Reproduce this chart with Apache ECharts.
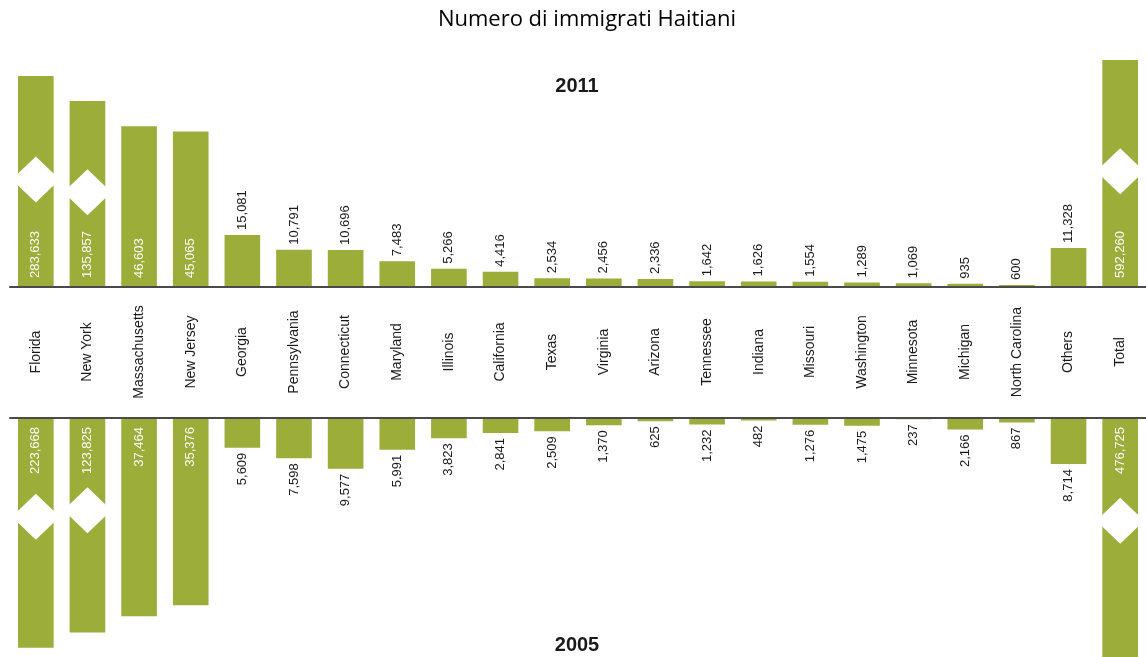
<!DOCTYPE html>
<html>
<head>
<meta charset="utf-8">
<script src="https://cdn.jsdelivr.net/npm/echarts@6/dist/echarts.min.js"></script>
<style>
  html, body { margin: 0; padding: 0; background: #fff; }
  #chart { width: 1146px; height: 657px; }
</style>
</head>
<body>
<div id="chart"></div>
<script>
// Haitian immigrants by US state, 2011 (upper panel) and 2005 (lower panel)
const states = ['Florida', 'New York', 'Massachusetts', 'New Jersey', 'Georgia', 'Pennsylvania',
  'Connecticut', 'Maryland', 'Illinois', 'California', 'Texas', 'Virginia', 'Arizona', 'Tennessee',
  'Indiana', 'Missouri', 'Washington', 'Minnesota', 'Michigan', 'North Carolina', 'Others', 'Total'];
const values2011 = [283633, 135857, 46603, 45065, 15081, 10791, 10696, 7483, 5266, 4416, 2534,
  2456, 2336, 1642, 1626, 1554, 1289, 1069, 935, 600, 11328, 592260];
const values2005 = [223668, 123825, 37464, 35376, 5609, 7598, 9577, 5991, 3823, 2841, 2509,
  1370, 625, 1232, 482, 1276, 1475, 237, 2166, 867, 8714, 476725];
const yearTop = '2011';
const yearBottom = '2005';
const chartTitle = 'Numero di immigrati Haitiani';

// Bars at or above this value carry their label inside the bar
const INSIDE_LABEL_MIN = 30000;
// Bars at or above this value are drawn with a break marker
const BREAK_MIN = 100000;

const GREEN = '#9cad3a';
const TEXT = '#1a1a1a';
const FONT = '"Liberation Sans", Arial, sans-serif';

const fmt = v => String(v).replace(/\B(?=(\d{3})+(?!\d))/g, ',');

const labelBase = { show: true, rotate: 90, verticalAlign: 'middle', fontSize: 13, fontFamily: FONT, formatter: p => fmt(p.value) };
const upOutside = Object.assign({}, labelBase, { position: 'top', align: 'left', distance: 5, color: TEXT });
const upInside = Object.assign({}, labelBase, { position: 'insideBottom', align: 'left', distance: 9, color: '#fff' });
const downOutside = Object.assign({}, labelBase, { position: 'bottom', align: 'right', distance: 5, color: TEXT });
const downInside = Object.assign({}, labelBase, { position: 'insideTop', align: 'right', distance: 9, color: '#fff' });

const barData = (vals, inside, outside) => vals.map(v => ({ value: v, label: v >= INSIDE_LABEL_MIN ? inside : outside }));
const breakData = vals => vals.map((v, i) => [i, v]).filter(d => d[1] >= BREAK_MIN);

// White diamond cut across a broken bar, placed at a fraction of the bar's drawn length
function diamondRenderer(frac) {
  return function (params, api) {
    const i = api.value(0);
    const v = api.value(1);
    const base = api.coord([i, 0]);
    const end = api.coord([i, v]);
    const cx = base[0];
    const cy = base[1] + (end[1] - base[1]) * frac;
    const hw = 24, hh = 23;
    return {
      type: 'polygon',
      shape: { points: [[cx, cy - hh], [cx + hw, cy], [cx, cy + hh], [cx - hw, cy]] },
      style: { fill: '#fff' }
    };
  };
}

const hiddenBreakArea = {
  show: false,
  expandOnClick: false,
  itemStyle: { color: 'rgba(0,0,0,0)', borderColor: 'rgba(0,0,0,0)', borderWidth: 0, opacity: 0 }
};

const valueAxisCommon = {
  type: 'value',
  min: 0,
  axisLine: { show: false },
  axisTick: { show: false },
  axisLabel: { show: false },
  splitLine: { show: false },
  breakArea: hiddenBreakArea
};

const axisLineStyle = { show: true, lineStyle: { color: '#4a4a4a', width: 2 } };

const chart = echarts.init(document.getElementById('chart'), null, { renderer: 'canvas' });
chart.setOption({
  animation: false,
  backgroundColor: '#fff',
  graphic: [
    { type: 'text', x: 587, y: 20, style: { text: chartTitle, align: 'center', verticalAlign: 'middle', font: '22px "Open Sans", sans-serif', fill: '#000' } },
    { type: 'text', x: 577, y: 86, style: { text: yearTop, align: 'center', verticalAlign: 'middle', font: 'bold 20px ' + FONT, fill: TEXT } },
    { type: 'text', x: 577, y: 645, style: { text: yearBottom, align: 'center', verticalAlign: 'middle', font: 'bold 20px ' + FONT, fill: TEXT } }
  ],
  grid: [
    { left: 10, right: 0, top: 60, height: 227 },
    { left: 10, right: 0, top: 418, bottom: 0 }
  ],
  xAxis: [
    {
      type: 'category', gridIndex: 0, data: states, z: 3,
      axisLine: axisLineStyle,
      axisTick: { show: false },
      axisLabel: { interval: 0, rotate: 90, align: 'center', verticalAlign: 'middle', margin: 65, fontSize: 14, fontFamily: FONT, color: TEXT }
    },
    {
      type: 'category', gridIndex: 1, data: states, position: 'top', z: 3,
      axisLine: axisLineStyle,
      axisTick: { show: false },
      axisLabel: { show: false }
    }
  ],
  yAxis: [
    Object.assign({}, valueAxisCommon, {
      gridIndex: 0,
      max: Math.max(...values2011),
      breaks: [
        { start: 48000, end: 134000, gap: 4000 },
        { start: 137000, end: 281000, gap: 3500 },
        { start: 285000, end: 590000, gap: 1000 }
      ]
    }),
    Object.assign({}, valueAxisCommon, {
      gridIndex: 1,
      inverse: true,
      max: Math.max(...values2005),
      breaks: [
        { start: 38000, end: 123000, gap: 1700 },
        { start: 124500, end: 223000, gap: 1550 },
        { start: 224000, end: 476000, gap: 700 }
      ]
    })
  ],
  series: [
    {
      name: yearTop, type: 'bar', xAxisIndex: 0, yAxisIndex: 0, barWidth: '69%',
      itemStyle: { color: GREEN }, data: barData(values2011, upInside, upOutside)
    },
    {
      name: yearBottom, type: 'bar', xAxisIndex: 1, yAxisIndex: 1, barWidth: '69%',
      itemStyle: { color: GREEN }, data: barData(values2005, downInside, downOutside)
    },
    {
      type: 'custom', xAxisIndex: 0, yAxisIndex: 0, z: 5, silent: true,
      renderItem: diamondRenderer(0.51), data: breakData(values2011)
    },
    {
      type: 'custom', xAxisIndex: 1, yAxisIndex: 1, z: 5, silent: true,
      renderItem: diamondRenderer(0.43), data: breakData(values2005)
    }
  ]
});
</script>
</body>
</html>
